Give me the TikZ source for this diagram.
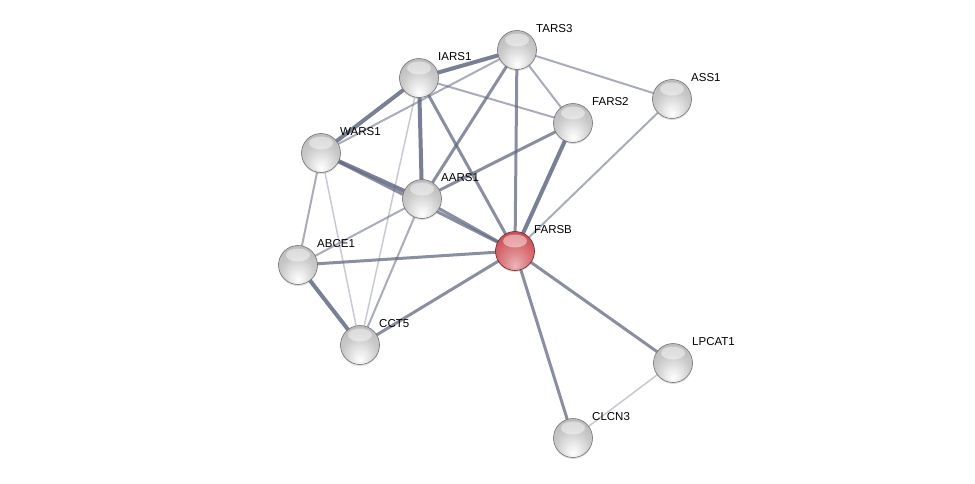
\documentclass[tikz,border=0pt]{standalone}
\usepackage{fontspec}
\setmainfont{Liberation Sans}
\usetikzlibrary{positioning,backgrounds,shadows}

\definecolor{edgeblue}{RGB}{98,104,130}
\definecolor{protred}{RGB}{206,78,84}

% glossy spheres, lighter towards the bottom
\pgfdeclareradialshading{glassgray}{\pgfpoint{0bp}{-20bp}}{%
  color(0bp)=(white); color(8bp)=(gray!14); color(22bp)=(gray!42); color(34bp)=(gray!55); color(50bp)=(gray!72)}
\pgfdeclareradialshading{glassred}{\pgfpoint{0bp}{-20bp}}{%
  color(0bp)=(protred!40!white); color(10bp)=(protred!62!white); color(28bp)=(protred!95!white); color(50bp)=(protred!75!black)}

\tikzset{
  prot/.style={circle, minimum size=39pt, inner sep=0pt, draw=gray!90!black, line width=0.6pt,
    shading=glassgray,
    drop shadow={opacity=0.25, shadow xshift=0pt, shadow yshift=-1.5pt},
    path picture={\fill[white, opacity=0.45] ([yshift=10pt]path picture bounding box.center) ellipse (12pt and 6.5pt);}},
  query/.style={prot, shading=glassred, draw=protred!50!black},
  lbl/.style={inner sep=0pt, font=\fontsize{11.5}{13}\selectfont, above right=3.5pt and 5pt of #1},
  strong/.style={draw=edgeblue, line width=4pt, opacity=0.85},
  medium/.style={draw=edgeblue, line width=3pt, opacity=0.75},
  weak/.style={draw=edgeblue, line width=2pt, opacity=0.55},
  faint/.style={draw=edgeblue, line width=1.5pt, opacity=0.35}
}

\begin{document}
\begin{tikzpicture}[x=1pt, y=-1pt]

\useasboundingbox (0,0) rectangle (975,483);

% Proteins
\node[prot] (tars3) at (517,50) {};
\node[prot] (iars1) at (419,78) {};
\node[prot] (ass1) at (672,99) {};
\node[prot] (fars2) at (573,123) {};
\node[prot] (wars1) at (321,153) {};
\node[prot] (aars1) at (422,199) {};
\node[query] (farsb) at (515,251) {};
\node[prot] (abce1) at (298,265) {};
\node[prot] (cct5) at (360,345) {};
\node[prot] (lpcat1) at (673,363) {};
\node[prot] (clcn3) at (573,438) {};

% Names
\node[lbl=tars3] (tars3-l) {TARS3};
\node[lbl=iars1] (iars1-l) {IARS1};
\node[lbl=ass1] (ass1-l) {ASS1};
\node[lbl=fars2] (fars2-l) {FARS2};
\node[lbl=wars1] (wars1-l) {WARS1};
\node[lbl=aars1] (aars1-l) {AARS1};
\node[lbl=farsb] (farsb-l) {FARSB};
\node[lbl=abce1] (abce1-l) {ABCE1};
\node[lbl=cct5] (cct5-l) {CCT5};
\node[lbl=lpcat1] (lpcat1-l) {LPCAT1};
\node[lbl=clcn3] (clcn3-l) {CLCN3};

% Interactions, behind the spheres
\begin{pgfonlayer}{background}
\draw[strong] (iars1.center) -- (tars3.center);
\draw[weak] (tars3.center) -- (wars1.center);
\draw[weak] (tars3.center) -- (ass1.center);
\draw[weak] (tars3.center) -- (fars2.center);
\draw[medium] (tars3.center) -- (aars1.center);
\draw[medium] (tars3.center) -- (farsb.center);
\draw[weak] (iars1.center) -- (fars2.center);
\draw[strong] (iars1.center) -- (wars1.center);
\draw[strong] (iars1.center) -- (aars1.center);
\draw[medium] (iars1.center) -- (farsb.center);
\draw[faint] (iars1.center) -- (cct5.center);
\draw[strong] (wars1.center) -- (aars1.center);
\draw[medium] (wars1.center) -- (farsb.center);
\draw[weak] (wars1.center) -- (abce1.center);
\draw[faint] (wars1.center) -- (cct5.center);
\draw[medium] (aars1.center) -- (farsb.center);
\draw[medium] (aars1.center) -- (fars2.center);
\draw[weak] (aars1.center) -- (abce1.center);
\draw[weak] (aars1.center) -- (cct5.center);
\draw[strong] (fars2.center) -- (farsb.center);
\draw[weak] (ass1.center) -- (farsb.center);
\draw[medium] (abce1.center) -- (farsb.center);
\draw[strong] (abce1.center) -- (cct5.center);
\draw[medium] (cct5.center) -- (farsb.center);
\draw[medium] (farsb.center) -- (lpcat1.center);
\draw[medium] (farsb.center) -- (clcn3.center);
\draw[faint] (lpcat1.center) -- (clcn3.center);
\end{pgfonlayer}

\end{tikzpicture}
\end{document}
